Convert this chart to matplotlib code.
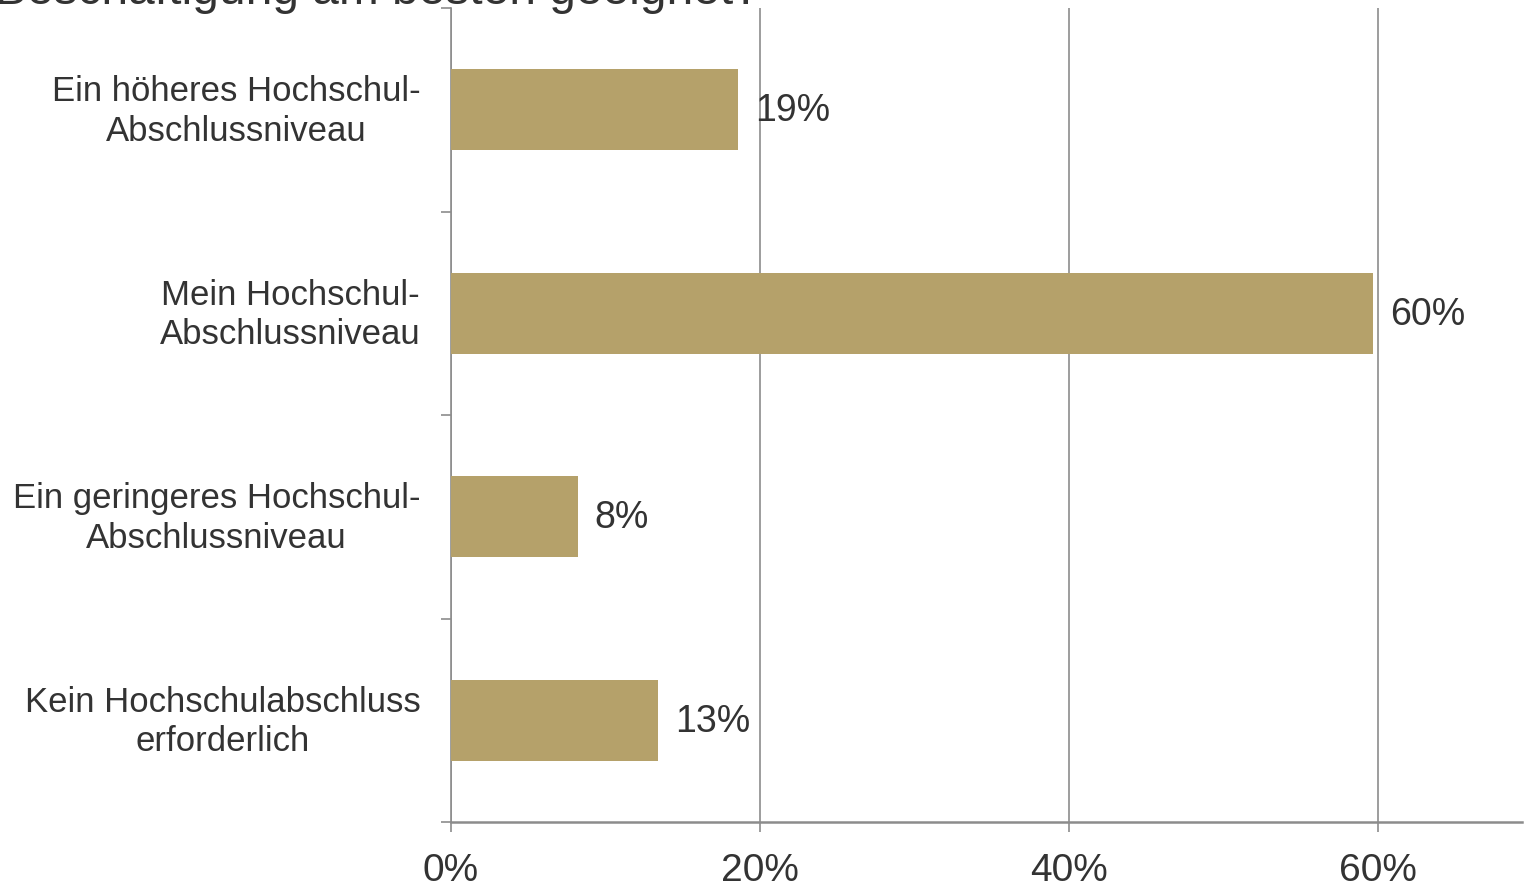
import numpy as np
import matplotlib
matplotlib.use("Agg")
import matplotlib.pyplot as plt
from matplotlib.ticker import FixedLocator

plt.rcParams['font.family'] = ['Liberation Sans', 'DejaVu Sans']

# data
categories = ["Ein höheres Hochschul-\nAbschlussniveau",
              "Mein Hochschul-\nAbschlussniveau",
              "Ein geringeres Hochschul-\nAbschlussniveau",
              "Kein Hochschulabschluss\nerforderlich"]
values = [18.6, 59.7, 8.2, 13.4]
xticks = [0, 20, 40, 60]
xticklabels = ["0%", "20%", "40%", "60%"]
title = "Beschäftigung am besten geeignet?"

bar_color = "#B5A16A"
text_color = "#333333"
line_color = "#8C8C8C"

fig = plt.figure(figsize=(15.24, 8.82), dpi=100)
ax = fig.add_axes([451 / 1524, 60 / 882, 1071 / 1524, 814 / 882])

pos = np.arange(len(categories))
ax.barh(pos, values, height=0.4, color=bar_color, zorder=3)

for p, v in zip(pos, values):
    ax.text(v + 1.1, p + 0.008, "%d%%" % round(v), va="center", ha="left",
            fontsize=27, color=text_color, zorder=4)

ax.set_xlim(0, 69.32)
ax.set_ylim(len(categories) - 0.5, -0.5)

ax.set_xticks(xticks)
ax.set_xticklabels(xticklabels, fontsize=28, color=text_color)
ax.tick_params(axis="x", direction="out", length=7.2, width=1.2,
               color=line_color, pad=15)
ax.grid(axis="x", color=line_color, linewidth=1.2, zorder=0)

# labels sit a little above the bar centre
ax.set_yticks(pos - 0.025)
ax.set_yticklabels(categories, fontsize=25, color=text_color,
                   multialignment="center", linespacing=1.25)
ax.tick_params(axis="y", which="major", length=0, pad=22)
ax.yaxis.set_minor_locator(FixedLocator(np.arange(len(categories) + 1) - 0.5))
ax.tick_params(axis="y", which="minor", direction="out", length=7.2,
               width=1.2, color=line_color)

for s in ["top", "right"]:
    ax.spines[s].set_visible(False)
ax.spines["left"].set_color(line_color)
ax.spines["left"].set_linewidth(1.2)
ax.spines["bottom"].set_color(line_color)
ax.spines["bottom"].set_linewidth(1.8)

fig.text(-0.003, 1 - 4 / 882, title, ha="left", va="baseline",
         fontsize=34.5, color=text_color)

fig.savefig("out.png", dpi=100)
